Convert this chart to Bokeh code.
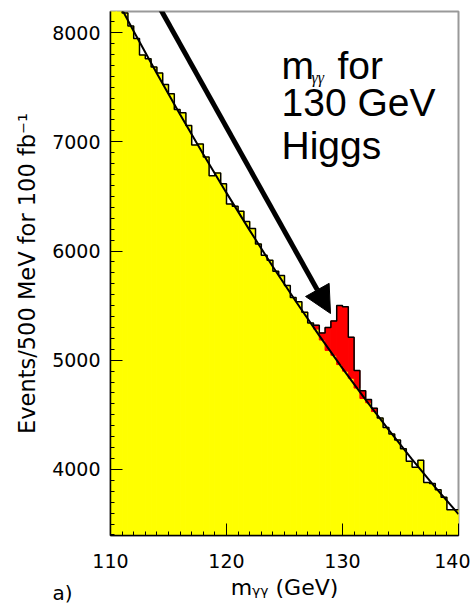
from bokeh.plotting import figure
from bokeh.models import Range1d, SingleIntervalTicker, Label, Arrow, NormalHead, Title
from bokeh.embed import file_html
from bokeh.resources import INLINE

# ---- data ----
bin_width = 0.5
bin_left = [110 + bin_width * i for i in range(60)]   # 0.5 GeV bins, 110..140

# background histogram (events per 500 MeV)
background = [8390, 8260, 8180, 8060, 7945, 7795, 7760, 7685, 7630, 7525,
              7440, 7295, 7265, 7150, 6970, 6980, 6860, 6690, 6715, 6615,
              6430, 6410, 6365, 6270, 6205, 6065, 5960, 5915, 5815, 5775,
              5685, 5575, 5535, 5440, 5340, 5285, 5185, 5090, 5045, 4960,
              4900, 4835, 4745, 4650, 4610, 4530, 4470, 4385, 4325, 4270,
              4190, 4075, 4020, 4085, 3880, 3870, 3815, 3745, 3630, 3630]

# 130 GeV Higgs signal stacked on the background
signal = [0] * 35 + [35, 65, 210, 315, 540, 590, 375, 160, 70, 30, 30] + [0] * 14

# fitted background curve
fit_x = [110, 112, 114, 116, 118, 120, 122, 124, 126, 128, 130, 132, 134, 136, 138, 140]
fit_y = [8410, 8012, 7626, 7250, 6886, 6532, 6189, 5856, 5535, 5225, 4925, 4637,
         4359, 4092, 3836, 3591]

x_ticks_major = 10
y_ticks_major = 1000

# ---- figure ----
X0, X1 = 110, 140
Y0, Y1 = 3395, 8193
p = figure(width=470, height=603, output_backend="svg", toolbar_location=None,
           x_range=Range1d(X0, X1), y_range=Range1d(Y0, Y1),
           min_border_left=110, min_border_right=12, min_border_top=11,
           min_border_bottom=68)
p.background_fill_color = "white"
p.border_fill_color = "white"
p.grid.visible = False
p.outline_line_color = "#999999"
p.outline_line_width = 2

# helpers: page pixel -> data coordinates (frame 110..458 x 11..535)
def sx(px):
    return X0 + (px - 110) * (X1 - X0) / 348.0

def sy(py):
    return Y1 - (py - 11) * (Y1 - Y0) / 524.0

bin_right = [l + bin_width for l in bin_left]
total = [b + s for b, s in zip(background, signal)]

p.quad(left=bin_left, right=bin_right, bottom=3000, top=background,
       fill_color="#ffff00", line_color="#ffff00", line_width=1)

sl = [l for l, s in zip(bin_left, signal) if s > 0]
sr = [r for r, s in zip(bin_right, signal) if s > 0]
sb = [b for b, s in zip(background, signal) if s > 0]
st = [t for t, s in zip(total, signal) if s > 0]
p.quad(left=sl, right=sr, bottom=sb, top=st,
       fill_color="#ff0000", line_color="#ff0000", line_width=1)

edges = bin_left + [bin_right[-1]]
p.step(x=edges, y=total + [total[-1]], mode="after", line_color="black", line_width=1.5)
p.line(fit_x, fit_y, line_color="black", line_width=2)

# axes
for ax in (p.xaxis[0], p.yaxis[0]):
    ax.axis_line_color = "black"
    ax.axis_line_width = 1.5
    ax.major_tick_line_color = "black"
    ax.minor_tick_line_color = "black"
    ax.major_tick_out = 0
    ax.minor_tick_out = 0
    ax.major_label_text_font = "DejaVu Sans"
    ax.major_label_text_font_size = "19px"
    ax.major_label_text_color = "black"

p.xaxis.ticker = SingleIntervalTicker(interval=x_ticks_major, num_minor_ticks=10)
p.yaxis.ticker = SingleIntervalTicker(interval=y_ticks_major, num_minor_ticks=10)
p.xaxis.major_tick_in = 12
p.xaxis.minor_tick_in = 4
p.yaxis.major_tick_in = 12
p.yaxis.minor_tick_in = 4
p.xaxis.major_label_standoff = 18
p.yaxis.major_label_standoff = 10

p.yaxis.axis_label = "Events/500 MeV for 100 fb\u207b\u00b9"
p.yaxis.axis_label_text_font = "DejaVu Sans"
p.yaxis.axis_label_text_font_size = "22.5px"
p.yaxis.axis_label_text_font_style = "normal"
p.yaxis.axis_label_text_color = "black"
p.yaxis.axis_label_standoff = 9

p.xaxis.axis_label = "m\u1d67\u1d67 (GeV)"
p.xaxis.axis_label_text_font = "DejaVu Sans"
p.xaxis.axis_label_text_font_size = "22px"
p.xaxis.axis_label_text_font_style = "normal"
p.xaxis.axis_label_text_color = "black"
p.xaxis.axis_label_standoff = 4

# panel tag "a)" under the axis, lifted to the axis-title row
p.add_layout(Title(text="a)", align="left", offset=-58, standoff=-44,
                   vertical_align="top", text_font="DejaVu Sans",
                   text_font_size="20px", text_font_style="normal",
                   text_color="black"), "below")

# annotation text
def add_label(px, py, text, size, font="Liberation Sans", style="normal"):
    p.add_layout(Label(x=sx(px), y=sy(py), text=text, text_font=font,
                       text_font_size=size, text_font_style=style,
                       text_baseline="alphabetic", text_align="left",
                       text_color="black"))

add_label(281, 65, "m", "39px")
add_label(311, 77, "\u03b3\u03b3", "16px", font="Liberation Serif", style="italic")
add_label(337, 65, "for", "39px")
add_label(281, 102, "130 GeV", "39px")
add_label(281, 145, "Higgs", "39px")

p.add_layout(Arrow(end=NormalHead(size=27, fill_color="black", line_color="black"),
                   x_start=sx(144), y_start=sy(-20), x_end=sx(330), y_end=sy(313),
                   line_color="black", line_width=5))

open("out.html", "w").write(file_html(p, INLINE))
